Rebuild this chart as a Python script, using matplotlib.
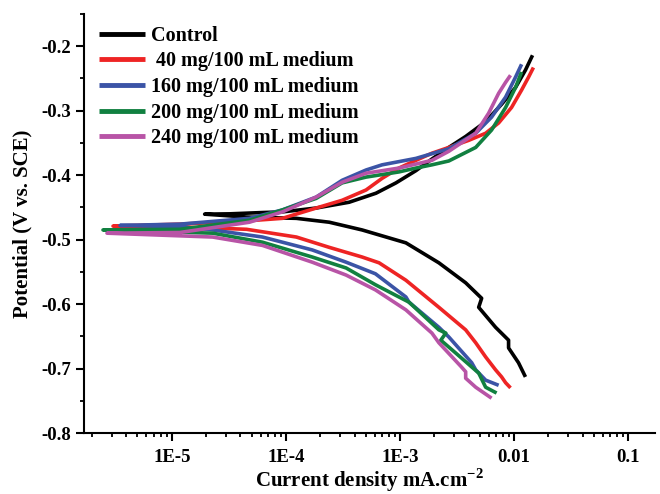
import numpy as np
import matplotlib
matplotlib.use('Agg')
import matplotlib.pyplot as plt
from matplotlib.ticker import FixedLocator, FixedFormatter, MultipleLocator, LogLocator, NullFormatter

plt.rcParams['font.family'] = ['Liberation Serif', 'DejaVu Serif']
plt.rcParams['font.weight'] = 'bold'
plt.rcParams['axes.unicode_minus'] = False
plt.rcParams['mathtext.fontset'] = 'custom'
plt.rcParams['mathtext.bf'] = 'Liberation Serif:bold'
plt.rcParams['mathtext.rm'] = 'Liberation Serif:bold'

# log10 of current density (mA/cm2) and potential (V vs SCE), cathodic end -> Ecorr -> anodic end
control_logi = [-1.900, -1.961, -2.048, -2.048, -2.162, -2.310, -2.284, -2.424, -2.659, -2.948, -3.332,
                -3.620, -3.908, -4.345, -4.712, -4.493, -4.205, -4.031, -3.734, -3.445, -3.210, -3.035,
                -2.860, -2.720, -2.572, -2.424, -2.249, -2.109, -1.987, -1.900, -1.838]
control_E = [-0.713, -0.691, -0.668, -0.656, -0.636, -0.605, -0.591, -0.567, -0.536, -0.505, -0.485,
             -0.473, -0.467, -0.465, -0.4605, -0.460, -0.458, -0.457, -0.451, -0.442, -0.428, -0.412,
             -0.393, -0.375, -0.357, -0.340, -0.317, -0.290, -0.264, -0.237, -0.214]

c40_logi = [-2.031, -2.074, -2.109, -2.162, -2.249, -2.336, -2.424, -2.659, -2.948, -3.183, -3.332,
            -3.620, -3.908, -4.345, -4.642, -5.515, -4.930, -4.345, -4.031, -3.734, -3.507, -3.297,
            -3.157, -3.009, -2.860, -2.720, -2.572, -2.397, -2.249, -2.135, -2.022, -1.934, -1.873, -1.830]
c40_E = [-0.730, -0.722, -0.713, -0.702, -0.682, -0.660, -0.640, -0.605, -0.563, -0.536, -0.527,
         -0.512, -0.496, -0.484, -0.482, -0.479, -0.476, -0.471, -0.467, -0.451, -0.439, -0.423,
         -0.405, -0.389, -0.377, -0.366, -0.357, -0.346, -0.335, -0.319, -0.295, -0.268, -0.248, -0.233]

c160_logi = [-2.135, -2.249, -2.336, -2.371, -2.572, -2.659, -2.921, -2.948, -3.215, -3.472, -3.769,
             -4.205, -4.642, -4.930, -5.454, -4.930, -4.319, -4.031, -3.734, -3.507, -3.297, -3.157,
             -2.860, -2.572, -2.336, -2.197, -2.074, -1.987, -1.934]
c160_E = [-0.726, -0.718, -0.702, -0.691, -0.651, -0.636, -0.597, -0.589, -0.553, -0.535, -0.516,
          -0.496, -0.485, -0.480, -0.478, -0.476, -0.467, -0.454, -0.434, -0.408, -0.392, -0.384,
          -0.374, -0.359, -0.335, -0.310, -0.279, -0.248, -0.228]

c200_logi = [-2.153, -2.249, -2.310, -2.511, -2.642, -2.598, -2.659, -2.921, -3.009, -3.215, -3.472,
             -3.769, -4.205, -4.642, -5.603, -4.930, -4.319, -4.031, -3.734, -3.507, -3.297, -3.009,
             -2.860, -2.720, -2.572, -2.336, -2.197, -2.074, -1.987, -1.934]
c200_E = [-0.738, -0.729, -0.707, -0.676, -0.656, -0.645, -0.640, -0.597, -0.589, -0.570, -0.544,
          -0.527, -0.504, -0.490, -0.485, -0.484, -0.470, -0.454, -0.436, -0.412, -0.403, -0.395,
          -0.389, -0.384, -0.378, -0.357, -0.330, -0.295, -0.264, -0.240]

c240_logi = [-2.197, -2.336, -2.424, -2.424, -2.459, -2.659, -2.720, -2.948, -3.215, -3.472, -3.769,
             -4.205, -4.642, -5.568, -4.930, -4.319, -4.031, -3.734, -3.507, -3.297, -3.009, -2.720,
             -2.572, -2.336, -2.223, -2.135, -2.074, -2.031]
c240_E = [-0.746, -0.729, -0.715, -0.705, -0.698, -0.660, -0.645, -0.609, -0.578, -0.555, -0.535,
          -0.509, -0.496, -0.490, -0.489, -0.473, -0.457, -0.434, -0.411, -0.397, -0.389, -0.377,
          -0.363, -0.335, -0.304, -0.273, -0.256, -0.245]

labels = ['Control', ' 40 mg/100 mL medium', '160 mg/100 mL medium', '200 mg/100 mL medium', '240 mg/100 mL medium']
colors = ['#000000', '#ee2424', '#3b54a6', '#118040', '#b854a6']
series = [(control_logi, control_E), (c40_logi, c40_E), (c160_logi, c160_E),
          (c200_logi, c200_E), (c240_logi, c240_E)]

xticks = [1e-5, 1e-4, 1e-3, 1e-2, 1e-1]
xticklabels = ['1E-5', '1E-4', '1E-3', '0.01', '0.1']

fig = plt.figure(figsize=(6.6, 4.94), dpi=100)
ax = fig.add_axes([84/660, 61/494, 571/660, 419/494])

for (li, E), c, lab in zip(series, colors, labels):
    ax.plot(np.power(10.0, li), E, color=c, lw=2.6, label=lab, solid_capstyle='butt')

ax.set_xscale('log')
ax.set_xlim(1.7e-6, 0.172)
ax.set_ylim(-0.8, -0.15)
ax.xaxis.set_major_locator(FixedLocator(xticks))
ax.xaxis.set_major_formatter(FixedFormatter(xticklabels))
ax.xaxis.set_minor_locator(LogLocator(base=10, subs=np.arange(2, 10), numticks=20))
ax.xaxis.set_minor_formatter(NullFormatter())
ax.yaxis.set_major_locator(MultipleLocator(0.1))
ax.yaxis.set_minor_locator(MultipleLocator(0.05))
ax.yaxis.set_major_formatter(matplotlib.ticker.FormatStrFormatter('%.1f'))

for s in ['top', 'right']:
    ax.spines[s].set_visible(False)
for s in ['left', 'bottom']:
    ax.spines[s].set_linewidth(1.5)
ax.tick_params(which='major', direction='out', length=5.5, width=1.5, labelsize=13.5, pad=4)
ax.tick_params(which='major', axis='x', pad=6)
ax.tick_params(which='minor', direction='out', length=3, width=1.3)

ax.set_xlabel(r'Current density mA.cm$^{\mathbf{-2}}$', fontsize=15, fontweight='bold', labelpad=0.5)
ax.set_ylabel('Potential (V vs. SCE)', fontsize=15, fontweight='bold', labelpad=6)

leg = ax.legend(loc='upper left', bbox_to_anchor=(0.026, 0.972), frameon=False, fontsize=14.5,
                handlelength=2.3, handletextpad=0.3, labelspacing=0.28, borderpad=0, borderaxespad=0)
for line in leg.get_lines():
    line.set_linewidth(3.5)
for t in leg.get_texts():
    t.set_fontweight('bold')

fig.savefig('out.png', dpi=100)
